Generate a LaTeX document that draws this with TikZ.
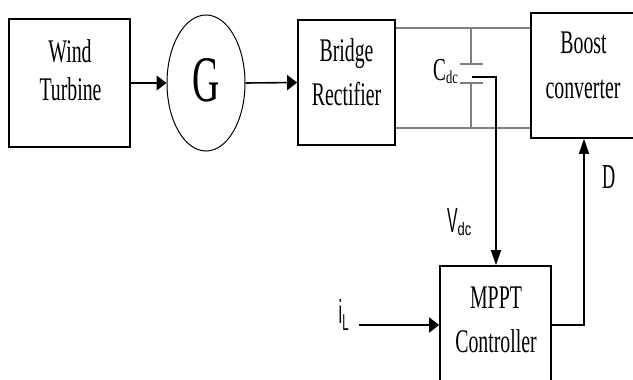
\documentclass[tikz,border=0pt]{standalone}
\usepackage{fontspec}
\setmainfont{Liberation Serif}
\setsansfont{Liberation Sans}
\usetikzlibrary{arrows.meta,shapes.geometric}
\newcommand\sqz[2]{\scalebox{#1}[1]{#2}}
\begin{document}
\begin{tikzpicture}[x=1pt,y=-1pt,
  blk/.style={draw,line width=1.7pt,inner sep=0pt},
  txt/.style={inner sep=0pt,anchor=base,font=\fontsize{33}{33}\selectfont},
  lab/.style={inner sep=0pt,anchor=base west},
  wire/.style={line width=1.6pt},
  bus/.style={line width=2pt,draw=black!50},
  harr/.style={-{Triangle[length=10pt,width=15pt]}},
  varr/.style={-{Triangle[length=15pt,width=10pt]}}]
\useasboundingbox (0,0) rectangle (633,380);
\clip (0,0) rectangle (633,380);
% blocks
\node[blk,minimum width=121pt,minimum height=128pt] (wt) at (69.5,83) {};
\node[draw,line width=1pt,ellipse,minimum width=78pt,minimum height=136pt,inner sep=0pt] (g) at (206,83) {};
\node[blk,minimum width=97pt,minimum height=125pt] (br) at (346.5,82.5) {};
\node[blk,minimum width=104pt,minimum height=125pt] (bc) at (583,75.5) {};
\node[blk,minimum width=111pt,minimum height=134pt] (mp) at (495.5,333) {};
% texts
\node[txt] (wt1) at (70,62) {\sqz{0.6}{Wind}};
\node[txt] (wt2) at (70.5,100) {\sqz{0.6}{Turbine}};
\node[txt,font=\fontsize{65}{65}\selectfont] (gt) at (206,101.5) {\sqz{0.58}{G}};
\node[txt] (br1) at (346.5,61) {\sqz{0.6}{Bridge}};
\node[txt] (br2) at (346.5,105) {\sqz{0.6}{Rectifier}};
\node[txt] (bc1) at (583.5,53) {\sqz{0.6}{Boost}};
\node[txt] (bc2) at (583,98) {\sqz{0.6}{converter}};
\node[txt] (mp1) at (496,308) {\sqz{0.6}{MPPT}};
\node[txt] (mp2) at (496,352) {\sqz{0.6}{Controller}};
% arrows between blocks
\draw[wire,harr] (wt.east) -- (g.west);
\draw[wire,harr] (g.east) -- (br.west);
% dc bus
\coordinate (ytop) at (0,28);
\coordinate (ybot) at (0,128);
\draw[bus] (br.east |- ytop) -- (bc.west |- ytop);
\draw[bus] (br.east |- ybot) -- (bc.west |- ybot);
% capacitor
\coordinate (c1) at (471,28);
\coordinate (c2) at (471,64);
\coordinate (c3) at (471,83);
\coordinate (c4) at (471,128);
\coordinate (p1l) at (460,64);
\coordinate (p1r) at (483,64);
\coordinate (p2l) at (460,83);
\coordinate (p2r) at (483,83);
\draw[line width=1.5pt,draw=black!50] (c1) -- (c2) (c3) -- (c4);
\draw[line width=2pt,draw=black!50] (p1l) -- (p1r) (p2l) -- (p2r);
\node[lab,font=\fontsize{32}{32}\selectfont] (cdc) at (433,80) {\sqz{0.6}{C}\raisebox{-3pt}{\fontsize{18}{18}\selectfont\sqz{0.7}{dc}}};
% Vdc sensing
\coordinate (vw) at (472,77);
\coordinate (vc) at (496,77);
\draw[wire,varr] (vw) -- (vc) -- (vc |- mp.north);
\node[lab,font=\sffamily\fontsize{35}{35}\selectfont] (vdc) at (447,232) {\sqz{0.45}{V}\raisebox{-3pt}{\fontsize{18}{18}\selectfont\sqz{0.72}{dc}}};
% D output
\coordinate (yd) at (0,325);
\coordinate (dx) at (584,325);
\draw[wire,varr] (mp.east |- yd) -- (dx) -- (dx |- bc.south);
\node[lab,font=\fontsize{35}{35}\selectfont] (dl) at (602,188) {\sqz{0.52}{D}};
% iL input
\coordinate (il) at (359,325);
\draw[wire,harr] (il) -- (mp.west |- il);
\node[lab,font=\sffamily\fontsize{33}{33}\selectfont] (iltxt) at (338.5,323) {\sqz{0.5}{i}\raisebox{-7pt}{\fontsize{23}{23}\selectfont\sqz{0.5}{L}}};
\end{tikzpicture}
\end{document}
